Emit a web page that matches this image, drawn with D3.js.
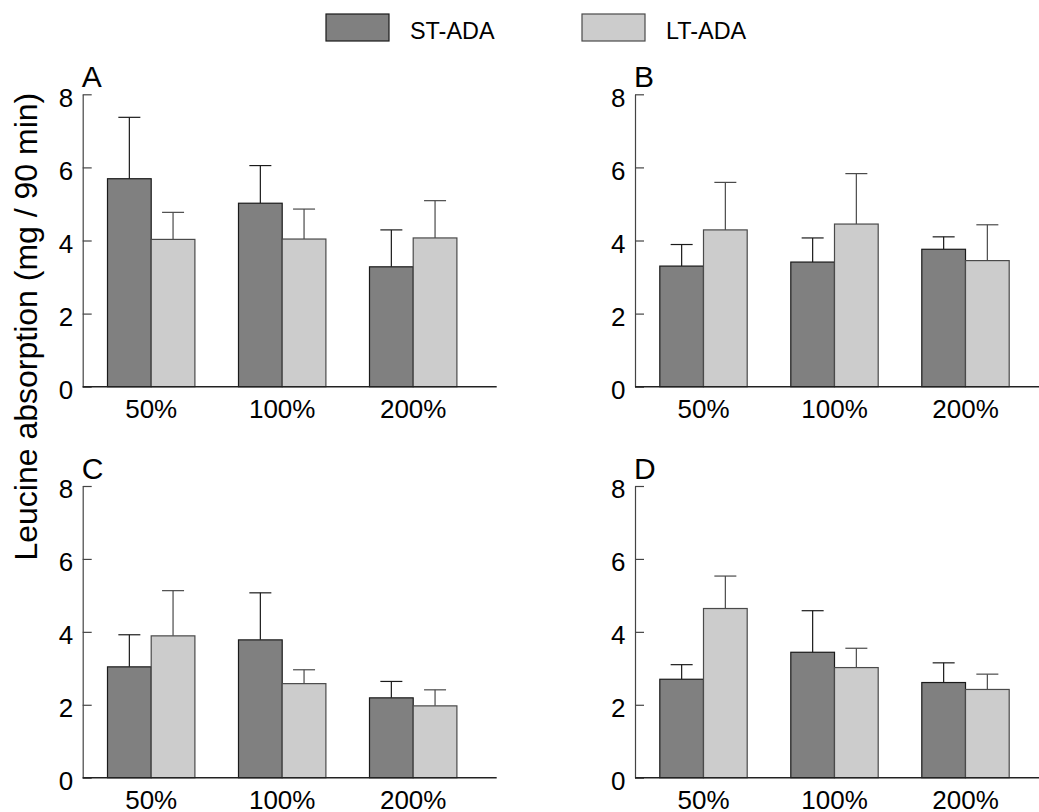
<!DOCTYPE html>
<html>
<head>
<meta charset="utf-8">
<script src="https://cdn.jsdelivr.net/npm/d3@7"></script>
<style>
  html, body { margin: 0; padding: 0; background: #fff; }
  svg { display: block; font-family: "Liberation Sans", Arial, sans-serif; }
</style>
</head>
<body>
<svg id="chart" width="1039" height="812"></svg>
<script>
// Doses and series
const categories = ["50%", "100%", "200%"];
const seriesNames = ["ST-ADA", "LT-ADA"];
const yTicks = [0, 2, 4, 6, 8];
const panelLetters = ["A", "B", "C", "D"];

// Means and upper error limits (mean + SD), mg / 90 min
const stMeanA = [5.69, 5.02, 3.28];
const stUpperA = [7.37, 6.05, 4.29];
const ltMeanA = [4.03, 4.04, 4.07];
const ltUpperA = [4.77, 4.86, 5.09];

const stMeanB = [3.30, 3.41, 3.76];
const stUpperB = [3.89, 4.07, 4.10];
const ltMeanB = [4.29, 4.45, 3.45];
const ltUpperB = [5.59, 5.83, 4.43];

const stMeanC = [3.04, 3.78, 2.19];
const stUpperC = [3.92, 5.07, 2.64];
const ltMeanC = [3.89, 2.58, 1.97];
const ltUpperC = [5.13, 2.96, 2.41];

const stMeanD = [2.70, 3.44, 2.61];
const stUpperD = [3.10, 4.58, 3.15];
const ltMeanD = [4.64, 3.02, 2.42];
const ltUpperD = [5.53, 3.55, 2.84];

const panelData = [
  { st: stMeanA, stU: stUpperA, lt: ltMeanA, ltU: ltUpperA },
  { st: stMeanB, stU: stUpperB, lt: ltMeanB, ltU: ltUpperB },
  { st: stMeanC, stU: stUpperC, lt: ltMeanC, ltU: ltUpperC },
  { st: stMeanD, stU: stUpperD, lt: ltMeanD, ltU: ltUpperD }
];

const fills = ["#808080", "#cccccc"];
const strokes = ["#1a1a1a", "#4a4a4a"];

const svg = d3.select("#chart");

// Panel frames: left edge of y axis, top (value 8) and bottom (value 0)
const frames = [
  { x: 82.7, top: 94.3, bottom: 386.7 },
  { x: 635, top: 94.3, bottom: 386.7 },
  { x: 82.7, top: 486, bottom: 777.7 },
  { x: 635, top: 486, bottom: 777.7 }
];

const axisLen = 414;
const barW = 43.7;
const capW = 22;

frames.forEach((f, i) => {
  const d = panelData[i];
  const g = svg.append("g").attr("transform", `translate(${f.x},0)`);

  const y = d3.scaleLinear().domain([0, 8]).range([f.bottom, f.top]);
  const x = d3.scalePoint().domain(categories).range([68.5, 330.5]);

  // Bars with upper error bars
  const groups = [
    { mean: d.st, upper: d.stU, off: -barW, k: 0 },
    { mean: d.lt, upper: d.ltU, off: 0, k: 1 }
  ];
  groups.forEach(s => {
    categories.forEach((c, j) => {
      const bx = x(c) + s.off;
      const cx = bx + barW / 2;
      g.append("line")
        .attr("x1", cx).attr("x2", cx)
        .attr("y1", y(s.mean[j])).attr("y2", y(s.upper[j]))
        .attr("stroke", strokes[s.k]).attr("stroke-width", 1.2);
      g.append("line")
        .attr("x1", cx - capW / 2).attr("x2", cx + capW / 2)
        .attr("y1", y(s.upper[j])).attr("y2", y(s.upper[j]))
        .attr("stroke", strokes[s.k]).attr("stroke-width", 1.2);
      g.append("rect")
        .attr("x", bx).attr("y", y(s.mean[j]))
        .attr("width", barW).attr("height", y(0) - y(s.mean[j]))
        .attr("fill", fills[s.k])
        .attr("stroke", strokes[s.k]).attr("stroke-width", 1.2);
    });
  });

  // Y axis with inward ticks
  const yAxis = d3.axisLeft(y).tickValues(yTicks).tickFormat(d3.format("d"))
    .tickSizeInner(-9).tickSizeOuter(0).tickPadding(9.5);
  const ya = g.append("g").call(yAxis);
  ya.attr("font-family", null).attr("font-size", null);
  ya.select(".domain").attr("stroke", "#444").attr("stroke-width", 1.2);
  ya.selectAll(".tick line").attr("stroke", "#444").attr("stroke-width", 1.2);
  ya.selectAll(".tick text").attr("font-size", 26).attr("dy", "0.45em").attr("fill", "#000");

  // X axis baseline with category labels
  g.append("line")
    .attr("x1", 0).attr("x2", axisLen)
    .attr("y1", y(0)).attr("y2", y(0))
    .attr("stroke", "#222").attr("stroke-width", 1.4);
  categories.forEach(c => {
    g.append("text")
      .attr("x", x(c)).attr("y", y(0) + 31.6)
      .attr("text-anchor", "middle")
      .attr("font-size", 26).attr("fill", "#000")
      .text(c);
  });

  // Panel letter
  g.append("text")
    .attr("x", -1).attr("y", f.top - 7.5)
    .attr("font-size", 30).attr("fill", "#000")
    .text(panelLetters[i]);
});

// Shared y-axis title
svg.append("text")
  .attr("transform", "translate(36.5,326.7) rotate(-90)")
  .attr("text-anchor", "middle")
  .attr("font-size", 32).attr("fill", "#000")
  .text("Leucine absorption (mg / 90 min)");

// Legend
const legendX = [326, 582];
seriesNames.forEach((name, k) => {
  svg.append("rect")
    .attr("x", legendX[k]).attr("y", 14)
    .attr("width", 63).attr("height", 27)
    .attr("fill", fills[k]).attr("stroke", strokes[k]).attr("stroke-width", 1.2);
  svg.append("text")
    .attr("x", legendX[k] + 84).attr("y", 39.3)
    .attr("font-size", 23.4).attr("fill", "#000")
    .text(name);
});
</script>
</body>
</html>
